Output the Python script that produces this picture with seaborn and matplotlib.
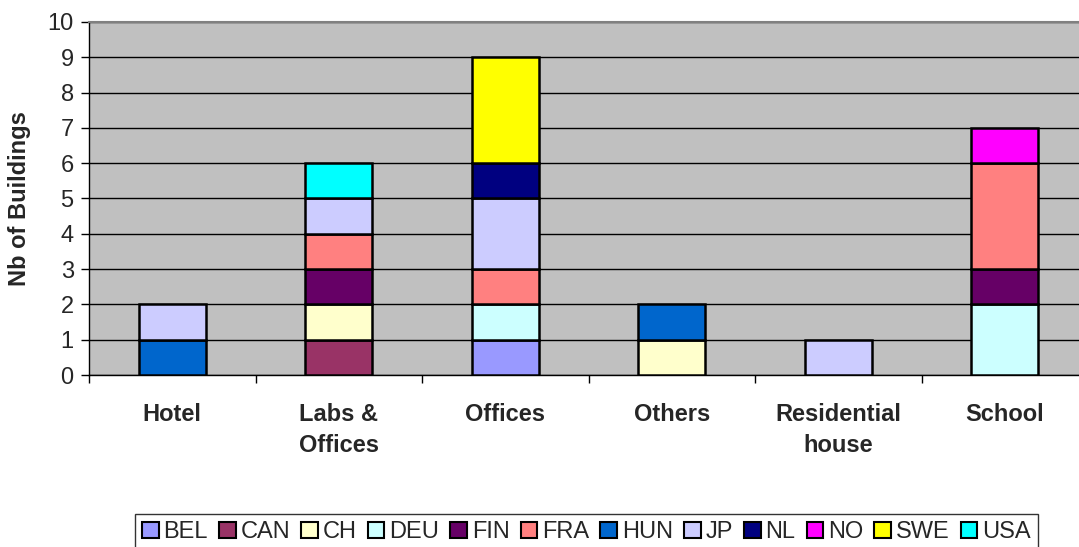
import numpy as np
import pandas as pd
import matplotlib
matplotlib.use("Agg")
import matplotlib.pyplot as plt
from matplotlib.patches import Patch
import seaborn as sns

# Building types and counts per country
categories = ["Hotel", "Labs &\nOffices", "Offices", "Others", "Residential\nhouse", "School"]
countries = ["BEL", "CAN", "CH", "DEU", "FIN", "FRA", "HUN", "JP", "NL", "NO", "SWE", "USA"]

BEL = [0, 0, 1, 0, 0, 0]
CAN = [0, 1, 0, 0, 0, 0]
CH = [0, 1, 0, 1, 0, 0]
DEU = [0, 0, 1, 0, 0, 2]
FIN = [0, 1, 0, 0, 0, 1]
FRA = [0, 1, 1, 0, 0, 3]
HUN = [1, 0, 0, 1, 0, 0]
JP = [1, 1, 2, 0, 1, 0]
NL = [0, 0, 1, 0, 0, 0]
NO = [0, 0, 0, 0, 0, 1]
SWE = [0, 0, 3, 0, 0, 0]
USA = [0, 1, 0, 0, 0, 0]

series = [BEL, CAN, CH, DEU, FIN, FRA, HUN, JP, NL, NO, SWE, USA]
colors = ["#9999FF", "#993366", "#FFFFCC", "#CCFFFF", "#660066", "#FF8080",
          "#0066CC", "#CCCCFF", "#000080", "#FF00FF", "#FFFF00", "#00FFFF"]

sns.set_theme(style="white")
plt.rcParams["font.family"] = ["Liberation Sans", "DejaVu Sans"]
FS = 17

fig = plt.figure(figsize=(10.79, 5.47), dpi=100)
ax = fig.add_axes([89 / 1079, 1 - 375 / 547, (1088 - 89) / 1079, (375 - 22) / 547])
ax.set_facecolor("#C0C0C0")

bottom = np.zeros(len(categories))
for name, vals, col in zip(countries, series, colors):
    vals = np.asarray(vals, dtype=float)
    df = pd.DataFrame({"cat": categories, "val": vals, "base": bottom})
    df = df[df["val"] > 0]
    if len(df):
        sns.barplot(data=df, x="cat", y="val", order=categories, color=col,
                    saturation=1, width=0.4, bottom=df["base"].to_numpy(),
                    edgecolor="black", linewidth=1.8, ax=ax, zorder=3)
    bottom = bottom + vals

ax.set_xlim(-0.5, len(categories) - 0.5)
ax.set_ylim(0, 10)
ax.set_yticks(range(0, 11))
ax.yaxis.grid(True, color="black", linewidth=1, zorder=1)
ax.set_axisbelow(True)

ax.set_xticks(range(len(categories)))
ax.set_xticklabels(categories, fontsize=FS, fontweight="bold", linespacing=1.45)
ax.set_xticks(np.arange(-0.5, len(categories), 1.0), minor=True)
ax.tick_params(axis="x", which="major", length=0, pad=20)
ax.tick_params(axis="x", which="minor", length=6, width=1, color="black", direction="out", bottom=True)
ax.tick_params(axis="y", length=6, width=1, color="black", direction="out", left=True,
               labelsize=FS, pad=5)

ax.set_xlabel("")
ax.set_ylabel("Nb of Buildings", fontsize=FS, fontweight="bold")
ax.yaxis.set_label_coords((20 - 89) / 999, 0.5)
ax.yaxis.label.set_verticalalignment("center")

for side in ["left", "bottom"]:
    ax.spines[side].set_color("black")
    ax.spines[side].set_linewidth(1)
ax.spines["top"].set_color("#808080")
ax.spines["top"].set_linewidth(1.5)
ax.spines["right"].set_visible(False)

handles = [Patch(facecolor=c, edgecolor="black", linewidth=1.5, label=n)
           for n, c in zip(countries, colors)]
leg = fig.legend(handles=handles, ncol=12, loc="upper left",
                 bbox_to_anchor=(135 / 1079, 1 - 514 / 547),
                 fontsize=FS, frameon=True, fancybox=False, edgecolor="black",
                 handlelength=0.7, handleheight=0.7, handletextpad=0.2,
                 columnspacing=0.48, borderpad=0.3, borderaxespad=0)
leg.get_frame().set_linewidth(1)

fig.savefig("out.png", dpi=100)
